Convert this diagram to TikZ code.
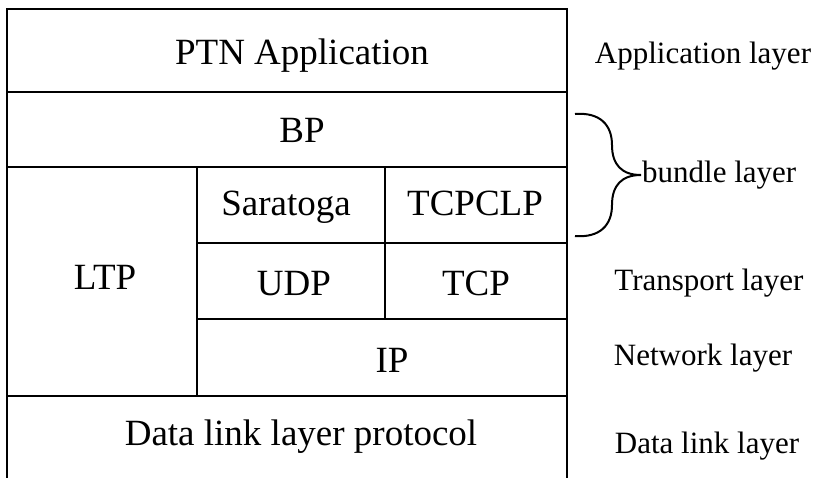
\documentclass[tikz,border=0pt]{standalone}
\usepackage{fontspec}
\setmainfont{Liberation Serif}
\usetikzlibrary{fit}
\begin{document}
\begin{tikzpicture}[x=1pt,y=-1pt,
  cell/.style={draw=black,line width=2.6pt,inner sep=0pt,rectangle},
  boxtext/.style={font=\fontsize{37}{40}\selectfont,inner sep=0pt,anchor=base},
  layertext/.style={font=\fontsize{31}{34}\selectfont,inner sep=0pt,anchor=base},
  bracestyle/.style={draw=black,line width=2pt}]
\clip (0,0) rectangle (819,477);
\fill[white] (0,0) rectangle (819,477);
% cells
\node[cell,fit={(7,9)(567,92)}] (app) {};
\node[cell,fit={(7,92)(567,167)}] (bp) {};
\node[cell,fit={(7,167)(197,396)}] (ltp) {};
\node[cell,fit={(197,167)(385,243)}] (sar) {};
\node[cell,fit={(385,167)(567,243)}] (tcpclp) {};
\node[cell,fit={(197,243)(385,319)}] (udp) {};
\node[cell,fit={(385,243)(567,319)}] (tcp) {};
\node[cell,fit={(197,319)(567,396)}] (ip) {};
\node[cell,fit={(7,396)(567,482)}] (dll) {};
% cell texts
\node[boxtext] (appT) at (302,64) {PTN Application};
\node[boxtext] (bpT) at (302,142) {BP};
\node[boxtext] (ltpT) at (105,289) {LTP};
\node[boxtext] (sarT) at (286,215) {Saratoga};
\node[boxtext] (tcpclpT) at (475,215) {TCPCLP};
\node[boxtext] (udpT) at (294,295) {UDP};
\node[boxtext] (tcpT) at (476,295) {TCP};
\node[boxtext] (ipT) at (392,372) {IP};
\node[boxtext] (dllT) at (301,445) {Data link layer protocol};
% layer labels
\node[layertext] (appL) at (703,63) {Application layer};
\node[layertext,anchor=base west] (bundleL) at (642,182) {bundle layer};
\node[layertext] (transL) at (709,290) {Transport layer};
\node[layertext] (netL) at (703,365) {Network layer};
\node[layertext] (dlL) at (707,453) {Data link layer};
% brace
\coordinate (brTop) at (575,114);
\coordinate (brTip) at (641,175);
\coordinate (brBot) at (575,236);
\draw[bracestyle] (brTop) .. controls (600,112) and (612,125) .. (612,145)
  .. controls (612,165) and (622,175) .. (brTip)
  .. controls (622,175) and (612,185) .. (612,205)
  .. controls (612,225) and (600,238) .. (brBot);
\end{tikzpicture}
\end{document}
